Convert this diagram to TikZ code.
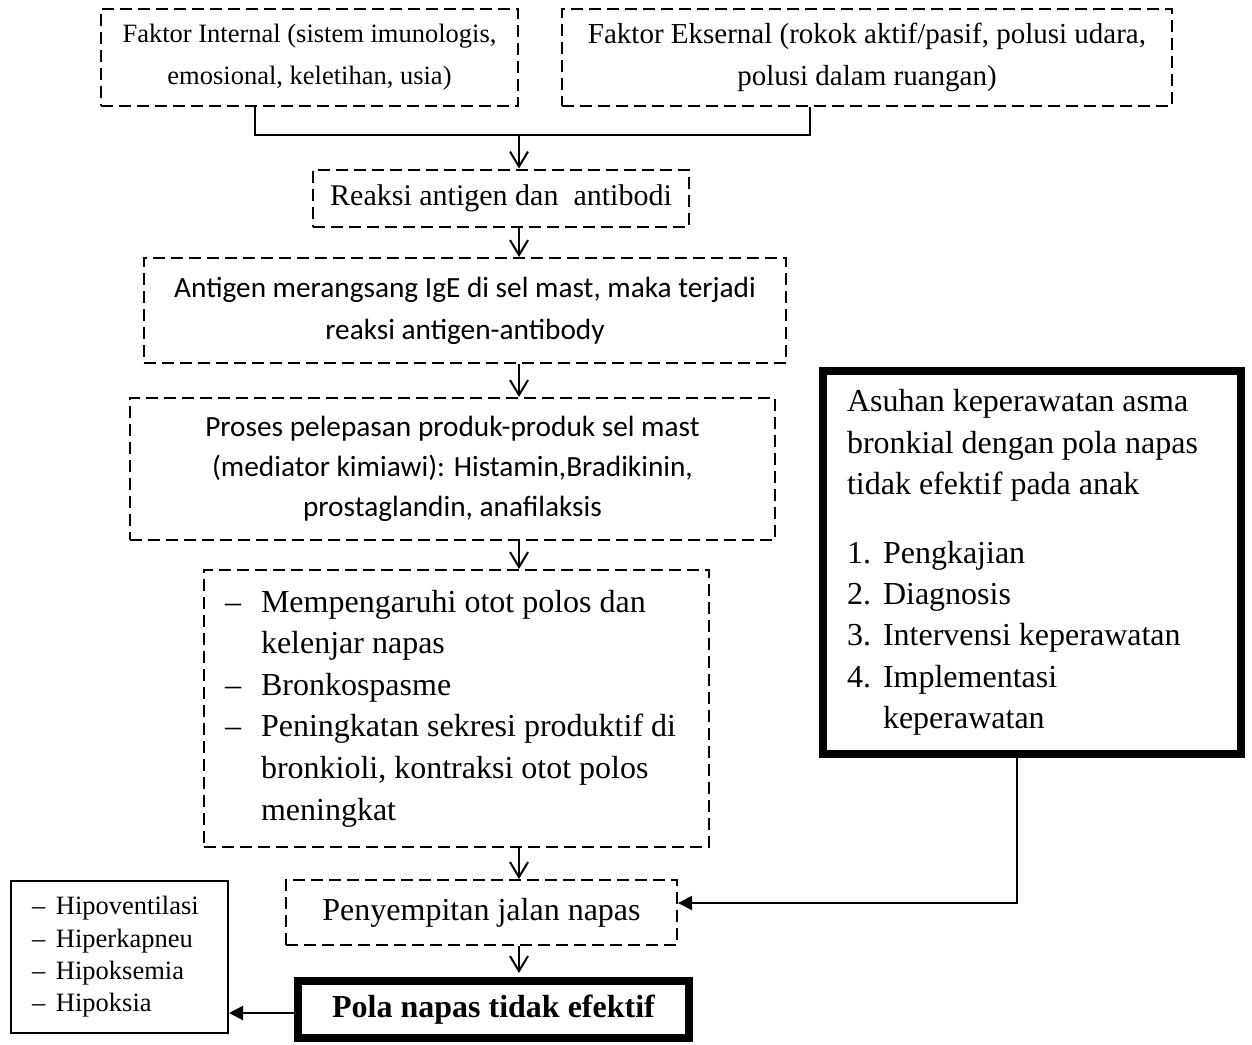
\documentclass[tikz,border=0pt]{standalone}
\usepackage{fontspec}
\setmainfont{Liberation Serif}
\newfontfamily\calfont{Carlito}
\usetikzlibrary{arrows.meta}
\tikzset{
  dbox/.style={draw, line width=2pt, dash pattern=on 12pt off 6pt, inner sep=0pt, align=center},
  tbox/.style={draw, line width=8pt, inner sep=0pt},
  sbox/.style={draw, line width=2pt, inner sep=0pt},
  ln/.style={line width=2pt},
  varr/.style={line width=2pt, -{Straight Barb[length=15pt,width=18pt,line width=2pt]}},
  farr/.style={line width=2pt, -{Triangle[length=14pt,width=14pt]}},
}
\begin{document}
\begin{tikzpicture}[x=1pt,y=-1pt]
\useasboundingbox (0,0) rectangle (1252,1044);
% nodes
\node[dbox, minimum width=417pt, minimum height=97pt, font={\fontsize{26.5pt}{42pt}\selectfont}] (int) at (309.5,57.5)
  {Faktor Internal (sistem imunologis,\\ emosional, keletihan, usia)};
\node[dbox, minimum width=610pt, minimum height=97pt, font={\fontsize{29pt}{42pt}\selectfont}] (eks) at (867,57.5)
  {Faktor Eksernal (rokok aktif/pasif, polusi udara,\\ polusi dalam ruangan)};
\node[dbox, minimum width=376pt, minimum height=57pt, font={\fontsize{30pt}{36pt}\selectfont}] (reak) at (501,198)
  {Reaksi antigen dan \ antibodi};
\node[dbox, minimum width=642pt, minimum height=105pt, font={\calfont\fontsize{29.3pt}{42pt}\selectfont}] (anti) at (465,310.5)
  {Antigen merangsang IgE di sel mast, maka terjadi\\ reaksi antigen-antibody};
\node[dbox, minimum width=645pt, minimum height=142pt, font={\calfont\fontsize{29.3pt}{40pt}\selectfont}] (pros) at (452.5,469)
  {Proses pelepasan produk-produk sel mast\\ (mediator kimiawi): Histamin,Bradikinin,\\ prostaglandin, anafilaksis};
\node[dbox, minimum width=505pt, minimum height=277pt, text width=463pt, align=flush left, font={\fontsize{32pt}{41.6pt}\selectfont}] (mem) at (456.5,708.5)
  {\makebox[36pt][l]{--}Mempengaruhi otot polos dan\\
   \hspace*{36pt}kelenjar napas\\
   \makebox[36pt][l]{--}Bronkospasme\\
   \makebox[36pt][l]{--}Peningkatan sekresi produktif di\\
   \hspace*{36pt}bronkioli, kontraksi otot polos\\
   \hspace*{36pt}meningkat};
\node[dbox, minimum width=391pt, minimum height=65pt, font={\fontsize{32pt}{38pt}\selectfont}] (peny) at (481.5,912.5)
  {Penyempitan jalan napas};
\node[tbox, minimum width=391pt, minimum height=57pt, font={\bfseries\fontsize{32pt}{38pt}\selectfont}] (pola) at (493.5,1009.5)
  {Pola napas tidak efektif};
\node[sbox, minimum width=217pt, minimum height=152pt, text width=175pt, align=flush left, font={\fontsize{26.5pt}{32.3pt}\selectfont}] (hipo) at (119.5,957)
  {\makebox[24pt][l]{--}Hipoventilasi\\
   \makebox[24pt][l]{--}Hiperkapneu\\
   \makebox[24pt][l]{--}Hipoksemia\\
   \makebox[24pt][l]{--}Hipoksia};
\node[tbox, minimum width=418pt, minimum height=383pt, text width=370pt, align=flush left, font={\fontsize{32pt}{41.4pt}\selectfont}] (asuh) at (1032,562.5)
  {Asuhan keperawatan asma\\
   bronkial dengan pola napas\\
   tidak efektif pada anak\\[27pt]
   \makebox[36pt][l]{1.}Pengkajian\\
   \makebox[36pt][l]{2.}Diagnosis\\
   \makebox[36pt][l]{3.}Intervensi keperawatan\\
   \makebox[36pt][l]{4.}Implementasi\\
   \hspace*{36pt}keperawatan};
% helper coordinates
\coordinate (sp) at (519,0);
\coordinate (c1) at (255,0);
\coordinate (c2) at (810,0);
\coordinate (jn) at (519,135);
\coordinate (c3) at (1017,903);
\coordinate (c4) at (0,1013);
% connectors
\draw[ln] (int.south -| c1) -- (c1 |- jn) -- (c2 |- jn) -- (eks.south -| c2);
\draw[varr] (jn) -- (reak.north -| sp);
\draw[varr] (reak.south -| sp) -- (anti.north -| sp);
\draw[varr] (anti.south -| sp) -- (pros.north -| sp);
\draw[varr] (pros.south -| sp) -- (mem.north -| sp);
\draw[varr] (mem.south -| sp) -- (peny.north -| sp);
\draw[varr] (peny.south -| sp) -- ([yshift=4pt]pola.north -| sp);
\draw[farr] (asuh.south -| c3) -- (c3) -- (peny.east |- c3);
\draw[farr] (pola.west |- c4) -- (hipo.east |- c4);
\end{tikzpicture}
\end{document}
